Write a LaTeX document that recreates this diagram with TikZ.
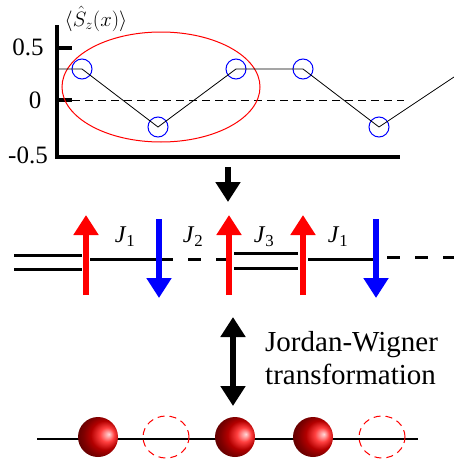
\documentclass[tikz,border=0pt]{standalone}
\usepackage{fontspec}
\setmainfont{Liberation Serif}
\usetikzlibrary{arrows.meta, positioning, shapes.geometric}

\begin{document}
\begin{tikzpicture}[
    x=1pt, y=-1pt,
    font=\fontsize{25}{33}\selectfont,
    axis/.style={line width=3.5pt},
    site/.style={circle, draw=blue, line width=1pt, minimum size=20pt, inner sep=0pt},
    spinarrow/.style={line width=6.5pt, -{Triangle[width=24pt, length=20pt]}},
    bond/.style={line width=3pt},
    weakbond/.style={line width=3pt, dash pattern=on 13pt off 15pt},
    fermion/.style={circle, minimum size=40pt, inner sep=0pt, ball color=red, shading angle=-120},
    hole/.style={ellipse, draw=red, line width=1pt, dash pattern=on 7pt off 5pt, minimum width=46pt, minimum height=42pt, inner sep=0pt},
    bigarrow/.style={line width=6pt, -{Triangle[width=24pt, length=20pt]}},
    coupling/.style={font=\fontsize{24}{28}\selectfont},
]
    \useasboundingbox (0,0) rectangle (454,466);

    % Magnetization profile
    \draw[axis] (57,25) |- (400,157);
    \draw[axis] (57,48) -- (72,48) (57,100) -- (72,100);
    \node (t1) at (28,47) {0.5};
    \node (t2) at (35,100) {0};
    \node (t3) at (28,155) {-0.5};
    \node[font=\fontsize{22}{24}\selectfont, inner sep=0pt] (ylab) at (96,19) {$\langle\hat{S}_z(x)\rangle$};
    \draw[line width=0.8pt, dash pattern=on 8pt off 5pt] (72,100) -- (404,100);
    \node[ellipse, draw=red, line width=1pt, minimum width=198pt, minimum height=110pt] (cell) at (161,87) {};
    \node[site] (s1) at (82,69) {};
    \node[site] (s2) at (158,127) {};
    \node[site] (s3) at (236,69) {};
    \node[site] (s4) at (303,69) {};
    \node[site] (s5) at (379,127) {};
    \coordinate (pl) at (57,69);
    \coordinate (pr) at (454,77);
    \draw[line width=0.8pt] (pl) -- (s1.center) -- (s2.center) -- (s3.center) -- (s4.center) -- (s5.center) -- (pr);

    \coordinate (d1) at (228,167);
    \coordinate (d2) at (228,202);
    \draw[bigarrow] (d1) -- (d2);

    % Spin chain
    \draw[bond] (14,255) -- (82,255) (14,269) -- (82,269);
    \draw[bond] (90,259) -- (160,259);
    \draw[weakbond] (160,259) -- (229,259);
    \draw[bond] (234,253) -- (298,253) (234,268) -- (298,268);
    \draw[bond] (308,259) -- (376,259);
    \draw[weakbond] (387,257) -- (454,257);
    \foreach \x/\c in {86/red, 229/red, 303/red}
        \draw[spinarrow, \c] (\x,295) -- (\x,215);
    \foreach \x/\c in {159/blue, 376/blue}
        \draw[spinarrow, \c] (\x,219) -- (\x,298);
    \node[coupling] (j1) at (125,237) {\textit{J}\textsubscript{1}};
    \node[coupling] (j2) at (193,237) {\textit{J}\textsubscript{2}};
    \node[coupling] (j3) at (264,237) {\textit{J}\textsubscript{3}};
    \node[coupling] (j4) at (338,237) {\textit{J}\textsubscript{1}};

    % Fermion chain
    \coordinate (u1) at (233,317);
    \coordinate (u2) at (233,406);
    \draw[bigarrow, {Triangle[width=24pt, length=20pt]}-{Triangle[width=24pt, length=20pt]}] (u1) -- (u2);
    \node[anchor=west, align=left, font=\fontsize{29}{33}\selectfont, inner sep=0pt] (jw) at (265,358) {Jordan-Wigner\\transformation};
    \coordinate (fl) at (37,439);
    \coordinate (fr) at (418,439);
    \draw[line width=2.5pt] (fl) -- (fr);
    \foreach \x [count=\i] in {98, 235, 313}
        \node[fermion] (f\i) at (\x,437) {};
    \foreach \x [count=\i] in {166, 382}
        \node[hole] (h\i) at (\x,437) {};
\end{tikzpicture}
\end{document}
